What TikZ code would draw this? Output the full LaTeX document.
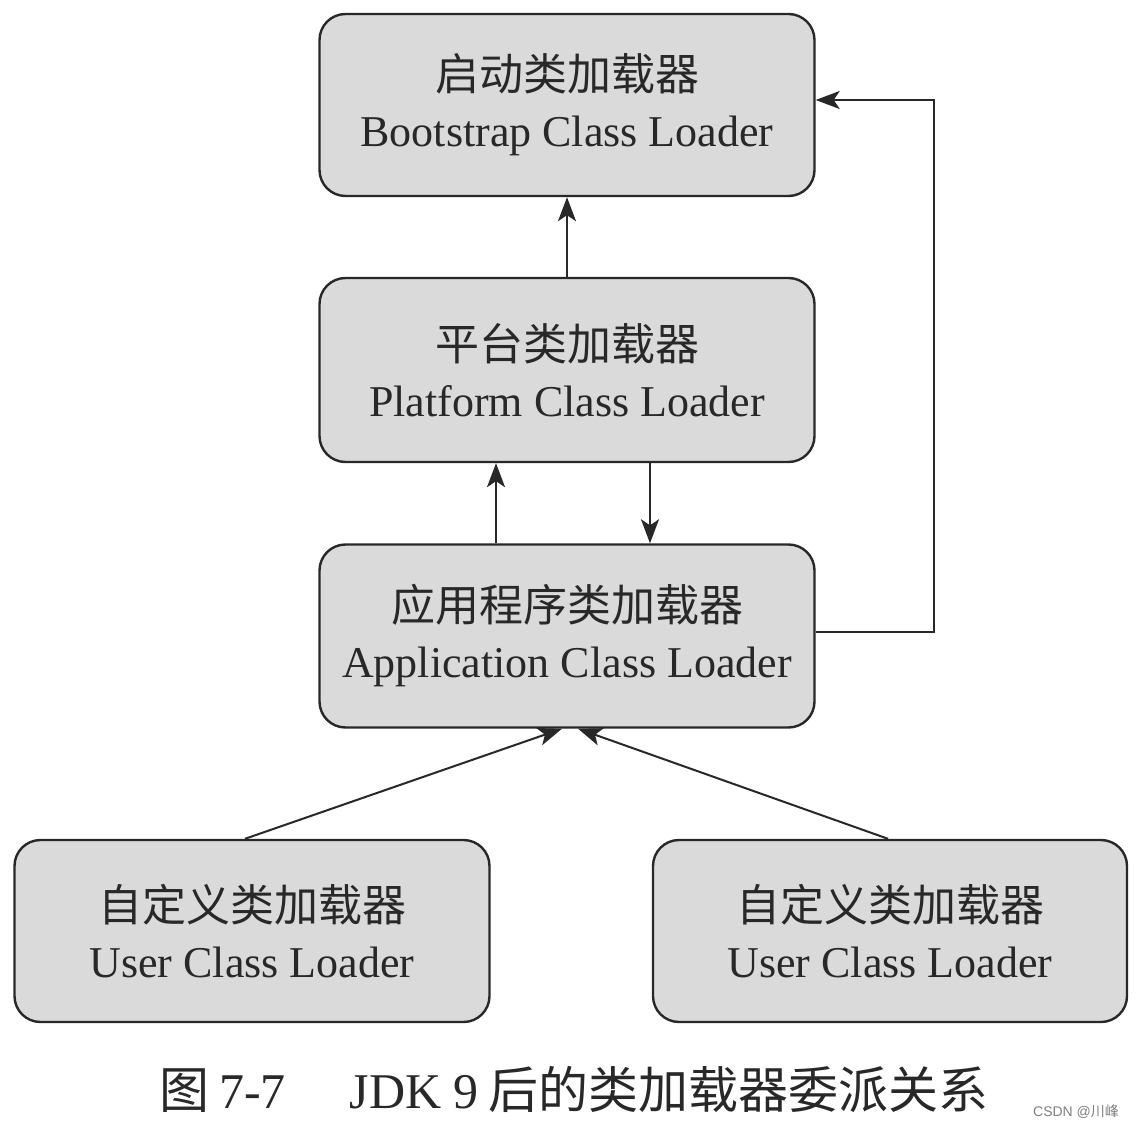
\documentclass[tikz,border=0pt]{standalone}
\usepackage{fontspec}
\setmainfont{Liberation Serif}
\newfontfamily\cjk{Noto Sans CJK SC}
\newfontfamily\wm{Liberation Sans}
\usetikzlibrary{arrows.meta}
\definecolor{boxfill}{RGB}{218,218,218}
\definecolor{ink}{RGB}{40,40,40}
\begin{document}
\begin{tikzpicture}[x=0.5pt,y=-0.5pt,
  loader/.style={draw=ink, line width=1.2pt, fill=boxfill, rounded corners=13pt,
    align=center, text=ink, font=\fontsize{22}{28}\selectfont, inner sep=0pt},
  arr/.style={draw=ink, line width=1pt, -{Stealth[length=12pt,width=9pt,inset=3pt]}}]
\useasboundingbox (0,0) rectangle (1140,1128);
\fill[white] (0,0) rectangle (1140,1128);
\node[loader, minimum width=247.5pt, minimum height=91pt] (boot) at (567,105)
  {{\cjk 启动类加载器}\\Bootstrap Class Loader};
\node[loader, minimum width=247.5pt, minimum height=92pt] (plat) at (567,370)
  {{\cjk 平台类加载器}\\Platform Class Loader};
\node[loader, minimum width=247.5pt, minimum height=91.5pt] (app) at (567,636)
  {{\cjk 应用程序类加载器}\\Application Class Loader};
\node[loader, minimum width=237.5pt, minimum height=91pt] (user1) at (252,931)
  {{\cjk 自定义类加载器}\\User Class Loader};
\node[loader, minimum width=237pt, minimum height=91pt] (user2) at (890,931)
  {{\cjk 自定义类加载器}\\User Class Loader};
\draw[arr] (plat.north) -- (boot.south);
\draw[arr] ([xshift=-35.5pt]app.north) -- ([xshift=-35.5pt]plat.south);
\draw[arr] ([xshift=41.5pt]plat.south) -- ([xshift=41.5pt]app.north);
\draw[arr] ([yshift=2pt]app.east) -- ++(118,0) |- ([yshift=2.5pt]boot.east);
\draw[arr] ([xshift=-3.5pt]user1.north) -- ([xshift=-2.5pt]app.south);
\draw[arr] ([xshift=-1pt]user2.north) -- ([xshift=5.5pt]app.south);
\node[text=ink, font=\fontsize{25}{28}\selectfont, anchor=base, inner sep=0pt] (cap) at (574,1108)
  {{\cjk 图}\hspace{5pt}7-7\hspace{32pt}JDK\hspace{6pt}9\hspace{5pt}{\cjk 后的类加载器委派关系}};
\node[text=gray, font=\wm\fontsize{7}{8}\selectfont, anchor=base east] (mark) at (1126,1116)
  {CSDN @{\cjk 川峰}};
\end{tikzpicture}
\end{document}
